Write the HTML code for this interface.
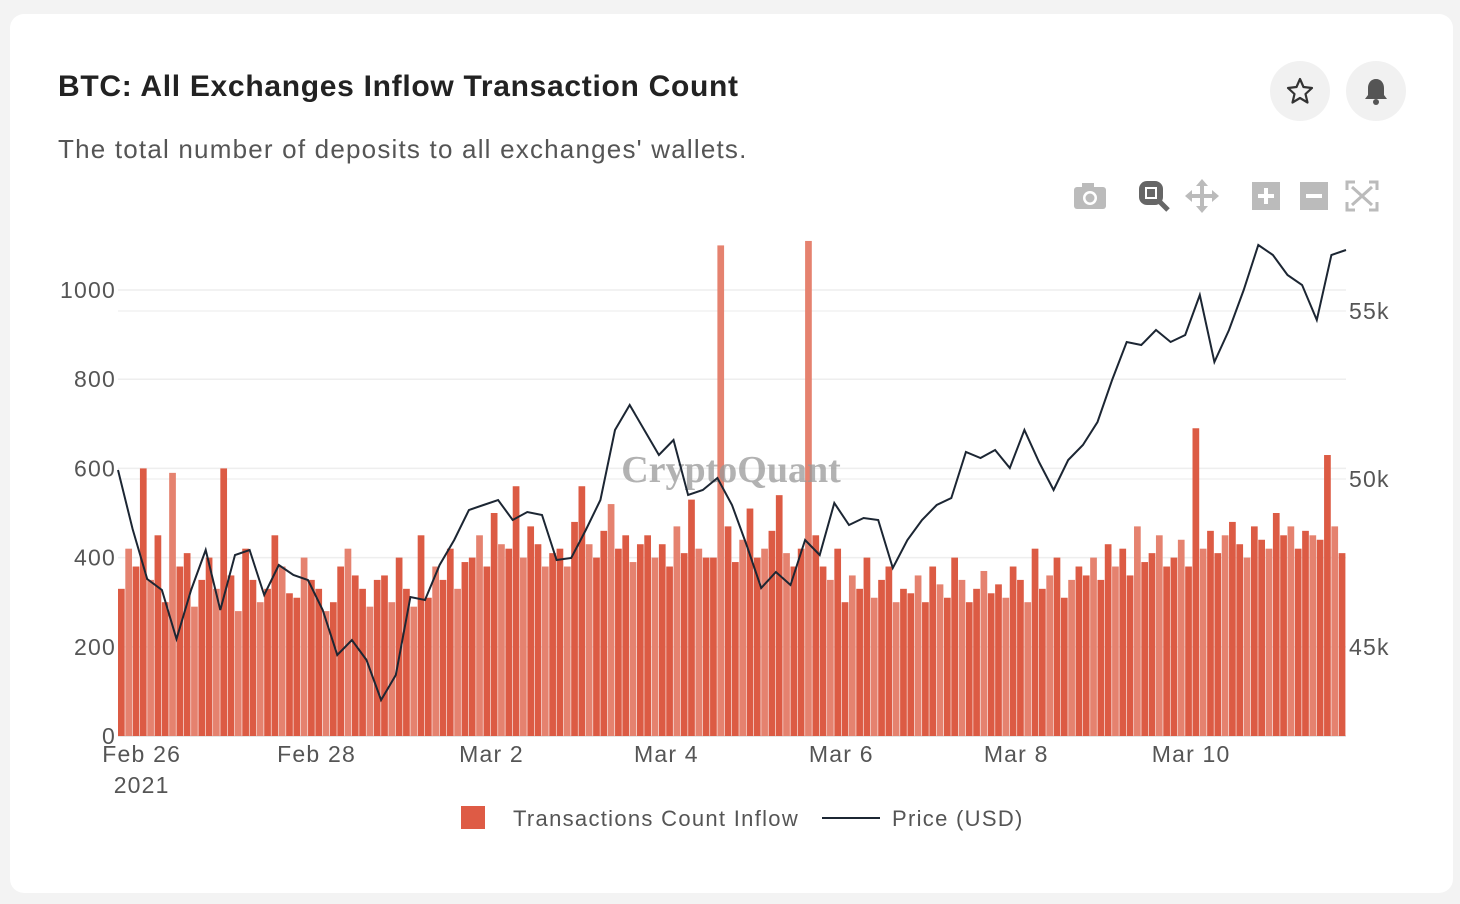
<!DOCTYPE html>
<html><head><meta charset="utf-8"><style>
body{margin:0;background:#f3f3f3;font-family:"Liberation Sans",sans-serif;}
#card{position:absolute;left:10px;top:14px;width:1443px;height:879px;background:#fff;border-radius:14px;}
.t{position:absolute;white-space:nowrap}
.btn{position:absolute;width:60px;height:60px;border-radius:30px;background:#f1f1f1;}
</style></head><body>
<div id="card"></div>
<div class="t" style="left:58px;top:70px;font-size:30px;font-weight:bold;color:#222;letter-spacing:0.7px">BTC: All Exchanges Inflow Transaction Count</div>
<div class="t" style="left:58px;top:134px;font-size:26px;color:#555;letter-spacing:1.2px">The total number of deposits to all exchanges' wallets.</div>
<div class="btn" style="left:1270px;top:61px"><svg width="60" height="60"><polygon points="30,18 33.5,26 42,27 35.5,33 37.5,41.5 30,37 22.5,41.5 24.5,33 18,27 26.5,26" fill="none" stroke="#333" stroke-width="2.2" stroke-linejoin="round"/></svg></div>
<div class="btn" style="left:1346px;top:61px"><svg width="60" height="60"><path d="M30 18c-5 0-8 4-8 9v7l-3 4h22l-3-4v-7c0-5-3-9-8-9z" fill="#555"/><circle cx="30" cy="41" r="3" fill="#555"/></svg></div>
<svg id="chart" width="1460" height="904" style="position:absolute;left:0;top:0">
<g fill="#bbb">
<g><rect x="1074" y="187" width="32" height="22" rx="3"/><rect x="1082" y="183" width="12" height="6"/><circle cx="1090" cy="198" r="7" fill="#fff"/><circle cx="1090" cy="198" r="4.5"/></g>
<g><rect x="1139" y="181" width="24" height="24" rx="8" fill="#666"/><rect x="1145" y="187" width="12" height="12" fill="#fff"/><rect x="1147" y="189" width="8" height="8" fill="#666"/><line x1="1159" y1="201" x2="1168" y2="210" stroke="#666" stroke-width="5"/></g>
<g><rect x="1188" y="194" width="28" height="4"/><rect x="1200" y="182" width="4" height="28"/><polygon points="1202,179 1196,186 1208,186"/><polygon points="1202,213 1196,206 1208,206"/><polygon points="1185,196 1192,190 1192,202"/><polygon points="1219,196 1212,190 1212,202"/></g>
<g><rect x="1252" y="182" width="28" height="28"/><rect x="1258" y="194" width="16" height="4" fill="#fff"/><rect x="1264" y="188" width="4" height="16" fill="#fff"/></g>
<g><rect x="1300" y="182" width="28" height="28"/><rect x="1306" y="194" width="16" height="4" fill="#fff"/></g>
<g stroke="#bbb" stroke-width="3" fill="none"><path d="M1347 190v-8h8M1369 182h8v8M1377 202v8h-8M1355 210h-8v-8M1352 187l20 18M1372 187l-20 18"/></g>
</g>
<g id="grid"></g><g id="bars"></g>
<text x="731" y="482" text-anchor="middle" font-family="Liberation Serif,serif" font-weight="bold" font-size="38" fill="#999" opacity="0.75">CryptoQuant</text>
<path id="price" fill="none" stroke="#1c2633" stroke-width="2"/>
<g id="axes" font-size="23" fill="#555" letter-spacing="1.2"></g>
<g font-size="22" fill="#555" letter-spacing="1.3">
<rect x="461" y="806" width="24" height="23" fill="#de5b45"/>
<text x="513" y="826">Transactions Count Inflow</text>
<line x1="822" y1="818" x2="880" y2="818" stroke="#1c2633" stroke-width="2"/>
<text x="892" y="826">Price (USD)</text>
</g>
</svg>
<script>
const inflow=[330,420,380,600,350,450,300,590,380,410,290,350,
400,330,600,360,280,420,350,300,330,450,380,320,
310,400,350,330,280,300,380,420,360,330,290,350,
360,300,400,330,290,450,310,380,350,420,330,390,
400,450,380,500,430,420,560,400,470,430,380,410,
420,380,480,560,430,400,460,520,420,450,390,430,
450,400,430,380,470,410,530,420,400,400,1100,470,
390,440,510,400,420,460,540,410,380,420,1110,450,
380,350,420,300,360,330,400,310,350,380,300,330,
320,360,300,380,340,310,400,350,300,330,370,320,
340,310,380,350,300,420,330,360,400,310,350,380,
360,400,350,430,380,420,360,470,390,410,450,380,
400,440,380,690,420,460,410,450,480,430,400,470,
440,420,500,450,470,420,460,450,440,630,470,410];
const prices=[50268,48512,47024,46697,45238,46697,47887,46101,47738,47887,46548,47440,47143,46994,46101,44762,45208,44613,43423,44167,46488,46399,47440,48185,49077,49226,49375,48780,49018,48929,47589,47649,48482,49375,51458,52202,51458,50714,51161,49524,49673,50030,49226,48036,46756,47232,46845,48185,47738,49286,48631,48839,48780,47351,48185,48780,49226,49435,50804,50625,50863,50327,51458,50506,49673,50565,51012,51696,52946,54077,53988,54434,54077,54286,55476,53482,54434,55625,56964,56667,56071,55774,54732,56667,56815];
const leftTicks=[0,200,400,600,800,1000];
const rightTicks=[45000,50000,55000];
const rightLabels=["45k","50k","55k"];
const xTickDays=[0,2,4,6,8,10];
const xLabels=["Feb 26","Feb 28","Mar 2","Mar 4","Mar 6","Mar 8","Mar 10"];
const startHour=-6.5, endHour=330.5;
const X0=118,X1=1346;
const xs=h=>X0+(h-startHour)/(endHour-startHour)*(X1-X0);
const yl=v=>736-v*0.446;
const yr=p=>479-(p-50000)*0.0336;
const NS="http://www.w3.org/2000/svg";
function mk(t,a,p){const e=document.createElementNS(NS,t);for(const k in a)e.setAttribute(k,a[k]);p.appendChild(e);return e;}
const grid=document.getElementById('grid'),bars=document.getElementById('bars'),axes=document.getElementById('axes');
leftTicks.forEach((v,i)=>{if(v>0){const l=mk('line',{x1:X0,x2:X1,y1:yl(v),y2:yl(v),stroke:'#eee','stroke-width':1.5},grid);

}
const t=mk('text',{x:116,y:yl(v)+8,'text-anchor':'end'},axes);t.textContent=v;

});
rightTicks.forEach((v,i)=>{const l=mk('line',{x1:X0,x2:X1,y1:yr(v),y2:yr(v),stroke:'#f2f2f2','stroke-width':1.5},grid);


const t=mk('text',{x:1349,y:yr(v)+8},axes);t.textContent=rightLabels[i];

});
xLabels.forEach((lab,i)=>{const t=mk('text',{x:xs(i*48),y:762,'text-anchor':'middle'},axes);t.textContent=lab;

});
const yt=mk('text',{x:xs(0),y:793,'text-anchor':'middle'},axes);yt.textContent="2021";


const step=(endHour-startHour)/inflow.length;
inflow.forEach((v,i)=>{const xa=xs(startHour+i*step),xb=xs(startHour+(i+1)*step);
const r=mk('rect',{x:xa,y:yl(v),width:Math.max(0.5,xb-xa-0.6),height:736-yl(v),fill:i%3==1?'#e5826f':'#dc5b44'},bars);

});
const pstep=(endHour-startHour)/(prices.length-1);
document.getElementById('price').setAttribute('d',prices.map((p,i)=>(i?'L':'M')+xs(startHour+i*pstep).toFixed(1)+' '+yr(p).toFixed(1)).join(''));
mk('line',{x1:X0,x2:X1,y1:736,y2:736,stroke:'#ccc'},grid);
</script>
</body></html>
